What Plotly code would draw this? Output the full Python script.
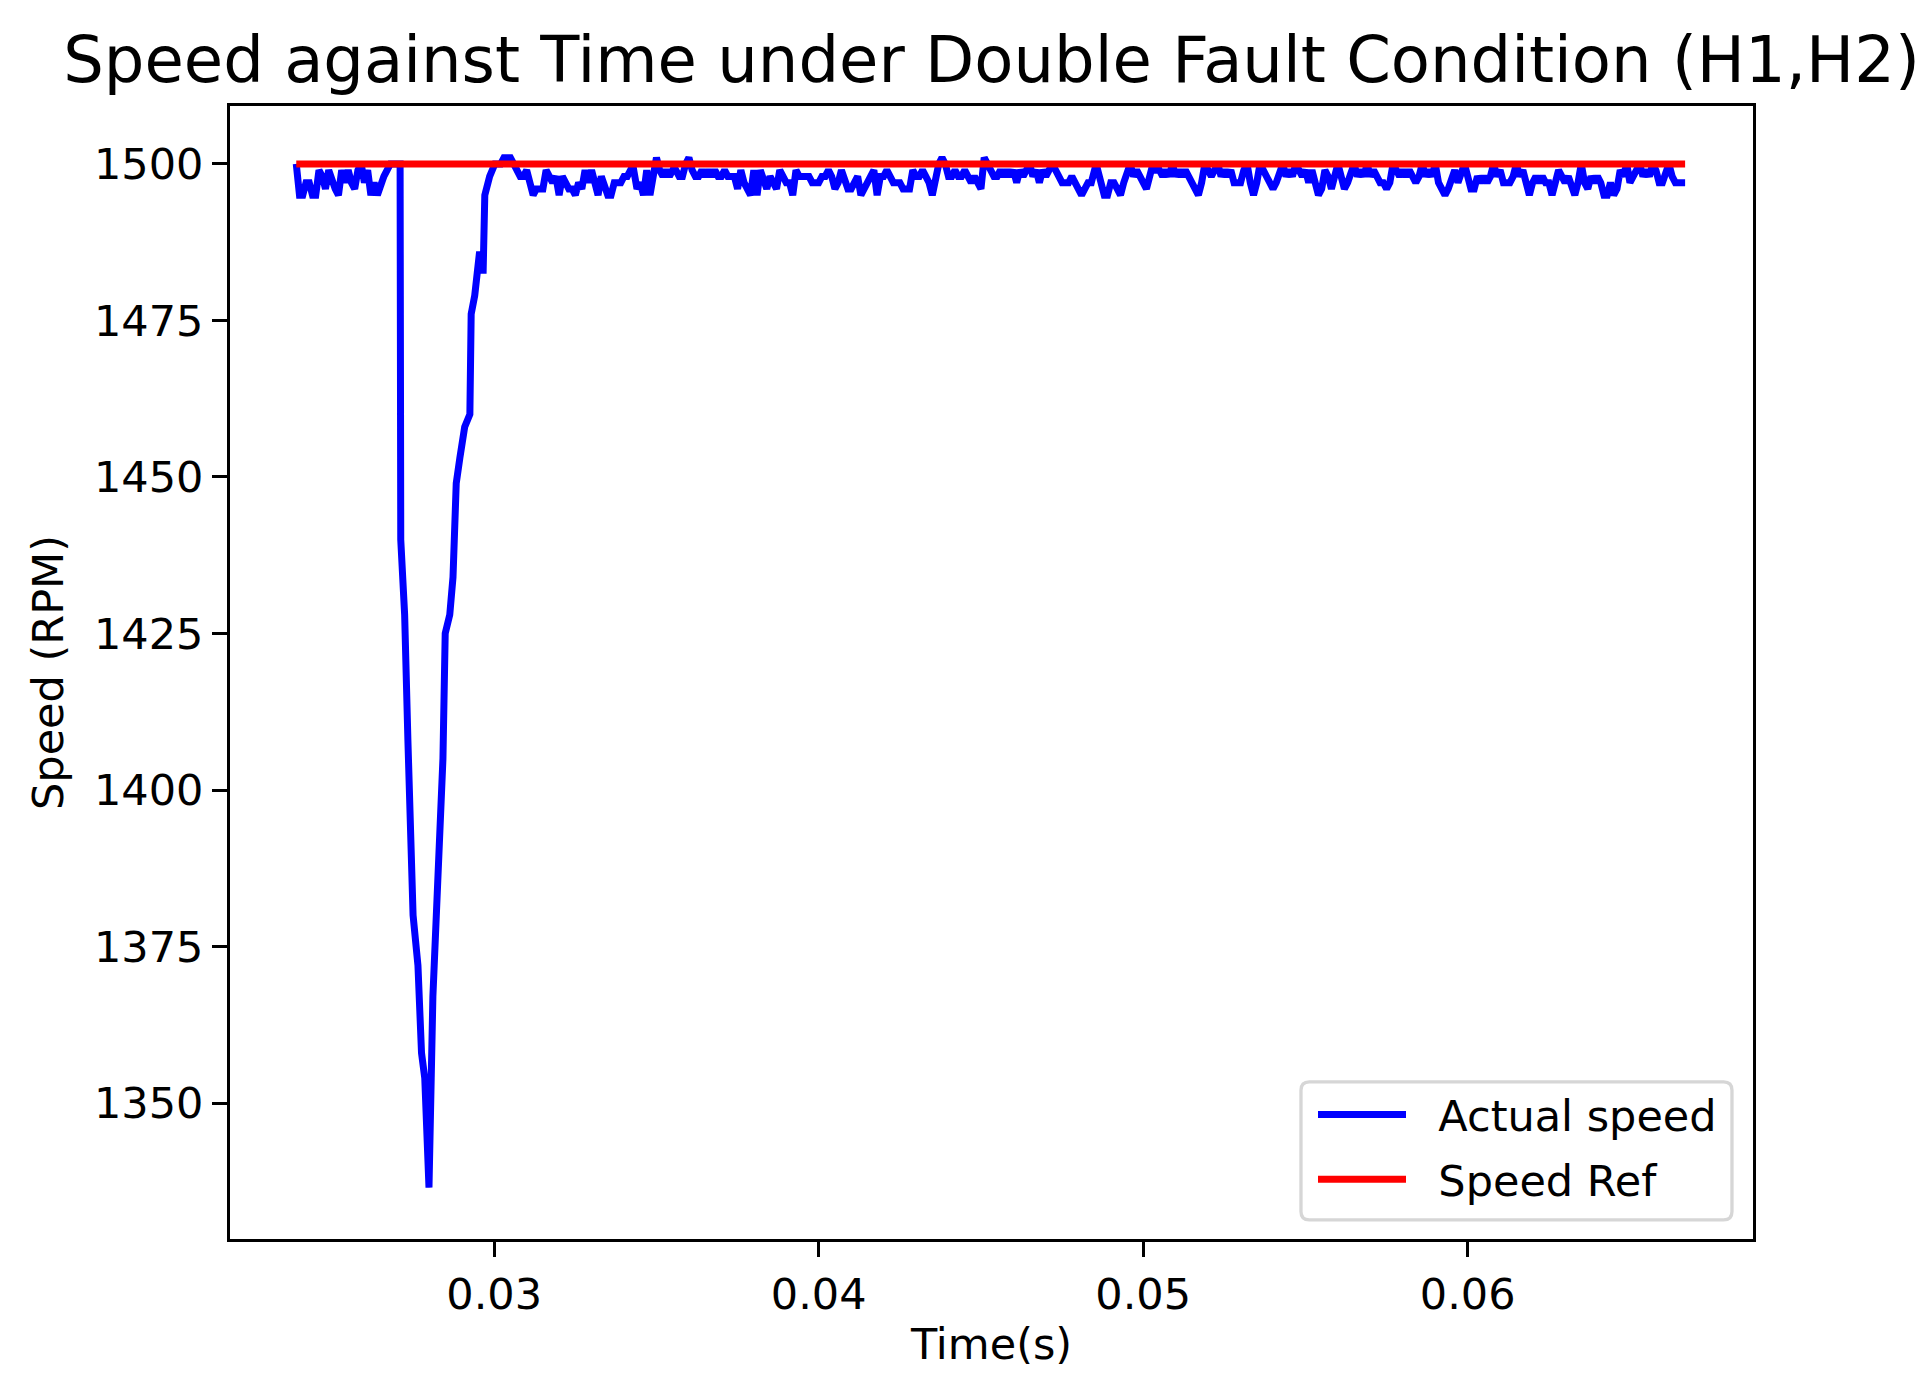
import plotly.graph_objects as go

# ---- data ----
STEP = 0.0001  # sampling step of the speed record (s)

# steady state before the fault, starting at 0.0239 s
PRE_T0 = 0.0239
PRE_SPEED = [1500, 1495, 1495, 1497, 1497, 1495, 1495, 1499, 1498, 1496,
             1499, 1497, 1496, 1495, 1499, 1497, 1499, 1497, 1496, 1499,
             1500, 1497, 1499, 1495, 1497, 1495, 1497, 1498, 1499, 1500,
             1500, 1500]

# fault transient (irregularly read points)
DIP_TIME = [0.02710, 0.02712, 0.02724, 0.02734, 0.02743, 0.02750, 0.02765,
            0.02776, 0.02786, 0.02799, 0.02811, 0.02822, 0.02832, 0.02842,
            0.02849, 0.02863, 0.02873, 0.02883, 0.02894, 0.02909, 0.02925,
            0.02929, 0.02940, 0.02950, 0.02955, 0.02960, 0.02966, 0.02971,
            0.02986, 0.03002]
DIP_SPEED = [1500, 1440, 1428, 1408, 1393, 1380, 1372,
             1358, 1354, 1336.5, 1367, 1381, 1393, 1405,
             1425, 1428, 1434, 1449, 1453, 1458, 1460,
             1476, 1479, 1485, 1486, 1483, 1483, 1495,
             1498, 1500]

# recovered steady state, starting at 0.0301 s
POST_T0 = 0.0301
POST_SPEED = [
    1500, 1500, 1501, 1501,
    1501, 1500, 1499, 1498, 1498, 1499, 1497, 1495, 1496, 1496,
    1496, 1499, 1498, 1497, 1498, 1495, 1498, 1497, 1496, 1496,
    1495, 1497, 1496, 1499, 1497, 1499, 1497, 1495, 1498, 1496,
    1495, 1495, 1497, 1497, 1497, 1498, 1498, 1499, 1499, 1496,
    1497, 1495, 1499, 1495, 1499, 1501, 1499, 1498, 1499, 1498,
    1499, 1499, 1498, 1498, 1500, 1501, 1499, 1498, 1498, 1499,
    1498, 1499, 1498, 1499, 1498, 1498, 1499, 1498, 1498, 1498,
    1496, 1499, 1497, 1496, 1495, 1499, 1495, 1499, 1497, 1496,
    1498, 1497, 1496, 1499, 1498, 1497, 1497, 1495, 1499, 1498,
    1498, 1498, 1498, 1497, 1497, 1497, 1498, 1498, 1499, 1498,
    1496, 1497, 1499, 1497, 1496, 1496, 1497, 1498, 1495, 1496,
    1497, 1498, 1499, 1495, 1498, 1498, 1499, 1498, 1497, 1497,
    1497, 1496, 1496, 1496, 1499, 1498, 1498, 1499, 1498, 1497,
    1495, 1498, 1500, 1501, 1500, 1498, 1498, 1499, 1498, 1498,
    1499, 1498, 1497, 1498, 1497, 1496, 1501, 1500, 1499, 1498,
    1498, 1499, 1498, 1499,
    1498, 1499, 1497, 1499, 1498, 1499, 1500, 1498, 1499, 1497,
    1499, 1498, 1499, 1500, 1499, 1498, 1497, 1497, 1497, 1498,
    1497, 1496, 1495, 1496, 1497, 1497, 1499, 1499, 1497, 1495,
    1495, 1497, 1497, 1496, 1495, 1497, 1499, 1500, 1498, 1499,
    1498, 1497, 1496, 1498, 1500, 1499, 1499, 1498, 1499, 1498,
    1500, 1498, 1499, 1498, 1499, 1498, 1497, 1496, 1495, 1497,
    1500, 1499, 1498, 1499, 1500, 1498, 1499, 1498, 1499, 1497,
    1497, 1497, 1499, 1500, 1497, 1495, 1497, 1500, 1499, 1498,
    1497, 1496, 1497, 1499, 1500, 1498, 1499, 1498, 1500, 1499,
    1498, 1499, 1497, 1499, 1497, 1495, 1496, 1499, 1498, 1496,
    1498, 1500, 1498, 1496, 1497, 1499, 1500, 1498, 1499, 1498,
    1500, 1498, 1499, 1498, 1497, 1497, 1496, 1497, 1500, 1499,
    1498, 1499, 1498, 1499, 1498, 1497, 1498, 1500, 1498, 1499,
    1498, 1500, 1497, 1496, 1495, 1496, 1498, 1499, 1497, 1499,
    1500, 1498, 1496, 1496, 1498, 1497, 1498, 1497, 1498, 1500,
    1498, 1499, 1497, 1497, 1497, 1498, 1500, 1498, 1499, 1497,
    1495, 1497, 1498, 1497, 1498, 1497, 1497, 1495, 1497, 1499,
    1498, 1497, 1498, 1496, 1495, 1497, 1500, 1497, 1496, 1498,
    1497, 1498, 1497, 1495, 1495, 1497, 1495, 1496, 1499, 1498,
    1500, 1497, 1498, 1499, 1500, 1498, 1499, 1498, 1500, 1499,
    1497, 1497, 1499, 1500, 1498, 1497, 1497, 1497, 1497,
]

REF_SPEED = 1500

X_TICKS = [0.03, 0.04, 0.05, 0.06]
Y_TICKS = [1350, 1375, 1400, 1425, 1450, 1475, 1500]

# ---- assemble the series ----
time = ([round(PRE_T0 + i * STEP, 6) for i in range(len(PRE_SPEED))]
        + DIP_TIME
        + [round(POST_T0 + i * STEP, 6) for i in range(len(POST_SPEED))])
speed = PRE_SPEED + DIP_SPEED + POST_SPEED

FONT = "DejaVu Sans"
FS = 43
NB = "\u00a0\u00a0"

fig = go.Figure()
fig.add_trace(go.Scatter(x=time, y=speed, mode="lines", name=NB + "Actual speed",
                         legendgroup="a",
                         line=dict(color="#0000ff", width=7)))
fig.add_trace(go.Scatter(x=[time[0], time[-1]], y=[REF_SPEED, REF_SPEED],
                         mode="lines", name=NB + "Speed Ref", legendgroup="b",
                         line=dict(color="#ff0000", width=7)))

axis_common = dict(showline=True, linecolor="black", linewidth=3, mirror=True,
                   ticks="outside", ticklen=15, tickwidth=3, tickcolor="black",
                   showgrid=False, zeroline=False,
                   tickfont=dict(family=FONT, size=FS, color="black"))

# legend frame (rounded, light grey) in paper coordinates
x0, x1, y0, y1 = 0.7032, 0.9862, 0.0168, 0.1386
rx, ry = 0.0055, 0.0074
frame = (f"M{x0+rx},{y0} L{x1-rx},{y0} Q{x1},{y0} {x1},{y0+ry} "
         f"L{x1},{y1-ry} Q{x1},{y1} {x1-rx},{y1} L{x0+rx},{y1} "
         f"Q{x0},{y1} {x0},{y1-ry} L{x0},{y0+ry} Q{x0},{y0} {x0+rx},{y0} Z")

fig.update_layout(
    width=1925, height=1396,
    margin=dict(l=222, r=180, t=98, b=165),
    paper_bgcolor="white", plot_bgcolor="white",
    title=dict(text="Speed against Time under Double Fault Condition (H1,H2)",
               x=0.5, xref="paper", y=1 - 52 / 1396, yref="container",
               xanchor="center", yanchor="middle",
               font=dict(family=FONT, size=64, color="black")),
    xaxis=dict(range=[0.021858, 0.068792], tickvals=X_TICKS,
               ticktext=[f"{v:.2f}" for v in X_TICKS],
               title=dict(text="Time(s)", standoff=12,
                          font=dict(family=FONT, size=FS, color="black")),
               **axis_common),
    yaxis=dict(range=[1328.3, 1509.25], tickvals=Y_TICKS,
               ticktext=[str(v) for v in Y_TICKS],
               title=dict(text="Speed (RPM)", standoff=17,
                          font=dict(family=FONT, size=FS, color="black")),
               **axis_common),
    shapes=[dict(type="path", path=frame, xref="paper", yref="paper",
                 line=dict(color="#d6d6d6", width=3.3),
                 fillcolor="rgba(255,255,255,0.8)", layer="above")],
    legend=dict(x=(1305 - 222) / 1523, y=(1231 - 1072) / 1133,
                xanchor="left", yanchor="top",
                bgcolor="rgba(0,0,0,0)", borderwidth=0, itemwidth=88,
                tracegroupgap=6,
                font=dict(family=FONT, size=FS, color="black")),
    showlegend=True,
)

fig.write_html("out.html")
